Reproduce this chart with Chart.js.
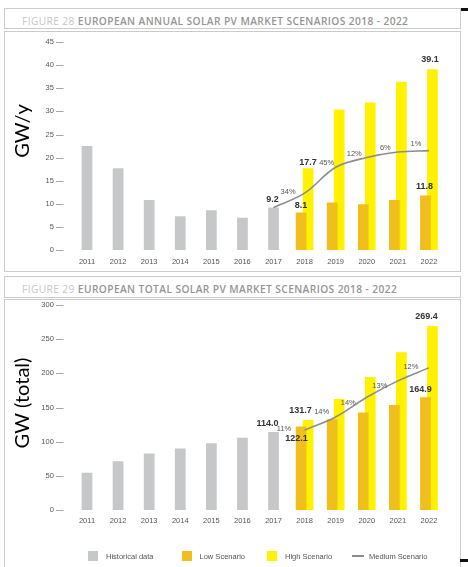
<!DOCTYPE html>
<html>
<head>
<meta charset="utf-8">
<script src="https://cdn.jsdelivr.net/npm/chart.js@4.4.1/dist/chart.umd.min.js"></script>
<style>
  body { margin: 0; background: #fff; }
  #page { position: relative; width: 468px; height: 567px; overflow: hidden; font-family: "Liberation Sans", Arial, sans-serif; }
  .box { position: absolute; box-sizing: border-box; border: 1px solid #cbcbcb; }
  .title { font-family: "Open Sans", sans-serif; font-size: 10.2px; letter-spacing: 0.4px; color: #959595; font-weight: 600; padding-left: 17px; padding-top: 3px; line-height: 19px; white-space: nowrap; }
  .title span { color: #c6c6c6; font-weight: 400; }
  .mark { position: absolute; left: 460px; width: 8px; height: 3px; background: #111; }
  canvas { position: absolute; }
  #legend { position: absolute; left: 88px; top: 551px; display: flex; align-items: center; font-size: 7.5px; color: #555; }
  #legend .sw { width: 10px; height: 10px; margin-right: 8px; }
  #legend .ln { width: 12px; height: 1.6px; background: #8d8d8d; margin-right: 5px; }
  #legend .it { display: flex; align-items: center; }
</style>
</head>
<body>
<div id="page">
  <div class="mark" style="top:8px"></div>
  <div class="box title" style="left:4px; top:8px; width:457px; height:21px;"><span>FIGURE 28</span> EUROPEAN ANNUAL SOLAR PV MARKET SCENARIOS 2018 - 2022</div>
  <div class="box" style="left:4px; top:31px; width:457px; height:241px;"></div>
  <canvas id="annualChart" style="left:5px; top:32px;" width="454" height="238"></canvas>

  <div class="box title" style="left:4px; top:276px; width:457px; height:22px;"><span>FIGURE 29</span> EUROPEAN TOTAL SOLAR PV MARKET SCENARIOS 2018 - 2022</div>
  <div class="box" style="left:4px; top:299px; width:457px; height:290px;"></div>
  <canvas id="totalChart" style="left:5px; top:300px;" width="454" height="267"></canvas>
  <div class="mark" style="top:559px"></div>

  <div id="legend">
    <div class="it" style="margin-right:28px"><div class="sw" style="background:#c6c7c9"></div>Historical data</div>
    <div class="it" style="margin-right:22px"><div class="sw" style="background:#f0bf1b"></div>Low Scenario</div>
    <div class="it" style="margin-right:20px"><div class="sw" style="background:#fff200"></div>High Scenario</div>
    <div class="it"><div class="ln"></div>Medium Scenario</div>
  </div>
</div>

<script>
const years = ['2011', '2012', '2013', '2014', '2015', '2016', '2017', '2018', '2019', '2020', '2021', '2022'];

// Figure 28 - annual market (GW/y)
const annualHistorical = [22.5, 17.7, 10.8, 7.3, 8.6, 7.0, 9.2, null, null, null, null, null];
const annualLow = [null, null, null, null, null, null, null, 8.1, 10.3, 9.9, 10.8, 11.8];
const annualHigh = [null, null, null, null, null, null, null, 17.7, 30.4, 31.9, 36.4, 39.1];
const annualMedium = [null, null, null, null, null, null, 9.2, 12.3, 17.9, 20.0, 21.2, 21.5];
const annualGrowth = [null, null, null, null, null, null, null, '34%', '45%', '12%', '6%', '1%'];
const annualTicks = [0, 5, 10, 15, 20, 25, 30, 35, 40, 45];

// Figure 29 - total installed (GW)
const totalHistorical = [54.6, 71.5, 82.7, 90.0, 97.8, 105.8, 114.0, null, null, null, null, null];
const totalLow = [null, null, null, null, null, null, null, 122.1, 132.8, 142.8, 153.6, 164.9];
const totalHigh = [null, null, null, null, null, null, null, 131.7, 162.4, 194.6, 230.8, 269.4];
const totalMedium = [null, null, null, null, null, null, null, 117.0, 136.0, 165.0, 189.0, 208.0];
const totalGrowth = [null, null, null, null, null, null, null, '11%', '14%', '14%', '13%', '12%'];
const totalTicks = [0, 50, 100, 150, 200, 250, 300];

const GREY = '#c6c7c9', LOW = '#f0bf1b', HIGH = '#fff200', MED = '#8d8d8d';
const FONT = '"Liberation Sans", Arial, sans-serif';

// value labels, growth labels and the big axis caption
const labelPlugin = {
  id: 'labels',
  afterDatasetsDraw(chart, args, opts) {
    const ctx = chart.ctx;
    const xs = chart.scales.x, ys = chart.scales.y;
    ctx.save();
    ctx.textAlign = 'center';
    ctx.textBaseline = 'bottom';

    ctx.font = 'bold 9px ' + FONT;
    ctx.fillStyle = '#333';
    opts.values.forEach(l => {
      const bar = chart.getDatasetMeta(l.ds).data[l.i];
      const v = chart.data.datasets[l.ds].data[l.i];
      ctx.fillText(v.toFixed(1), bar.x + (l.dx || 0), bar.y - 3 + (l.dy || 0));
    });

    // growth % sits between two years, near the end point of the medium line
    ctx.font = '7.5px ' + FONT;
    ctx.fillStyle = '#555';
    ctx.textBaseline = 'middle';
    let k = 0;
    opts.growth.forEach((g, i) => {
      if (!g) return;
      const off = opts.growthOffsets[k++];
      const x = (xs.getPixelForValue(i - 1) + xs.getPixelForValue(i)) / 2;
      const y = ys.getPixelForValue(opts.medium[i]);
      ctx.fillText(g, x + off[0], y + off[1]);
    });

    ctx.translate(opts.captionX, chart.chartArea.top + opts.captionY);
    ctx.rotate(-Math.PI / 2);
    ctx.font = '20px Lato, sans-serif';
    ctx.fillStyle = '#000';
    ctx.fillText(opts.caption, 0, 0);
    ctx.restore();
  }
};

function makeChart(id, hist, low, high, med, ticks, cfg) {
  return new Chart(document.getElementById(id), {
    type: 'bar',
    data: {
      labels: years,
      datasets: [
        { type: 'line', label: 'Medium Scenario', data: med, borderColor: MED, borderWidth: 1.6,
          pointRadius: 0, tension: 0.35, order: 0 },
        { label: 'Historical data', data: hist, backgroundColor: GREY, skipNull: true,
          categoryPercentage: 0.5, barPercentage: 0.69, order: 1 },
        { label: 'Low Scenario', data: low, backgroundColor: LOW, skipNull: true,
          categoryPercentage: 0.45, barPercentage: 1.53, order: 2 },
        { label: 'High Scenario', data: high, backgroundColor: HIGH, skipNull: true,
          categoryPercentage: 0.45, barPercentage: 1.53, order: 3 }
      ]
    },
    options: {
      responsive: false,
      animation: false,
      layout: { padding: { top: cfg.padTop, right: 14.5, left: 0, bottom: 0 } },
      plugins: {
        legend: { display: false },
        tooltip: { enabled: false },
        labels: cfg.labels
      },
      scales: {
        x: {
          grid: { display: false, drawTicks: false },
          border: { display: false },
          ticks: { color: '#555', font: { family: FONT, size: 7.5 }, padding: cfg.xPad, maxRotation: 0 },
          afterFit: s => { s.height = cfg.xHeight; }
        },
        y: {
          min: ticks[0],
          max: ticks[ticks.length - 1],
          afterBuildTicks: s => { s.ticks = ticks.map(v => ({ value: v })); },
          grid: { display: false, drawTicks: false },
          border: { display: false },
          ticks: { color: '#555', font: { family: FONT, size: 7.5 }, padding: 8,
                   callback: v => v + ' \u2014' },
          afterFit: s => { s.width = 66.45; s.paddingTop = 0; s.paddingBottom = 0; }
        }
      }
    },
    plugins: [labelPlugin]
  });
}

makeChart('annualChart', annualHistorical, annualLow, annualHigh, annualMedium, annualTicks, {
  padTop: 10, xHeight: 20, xPad: 7,
  labels: {
    values: [ { ds: 1, i: 6, dx: -1 }, { ds: 2, i: 7 }, { ds: 3, i: 7, dy: 1.5 },
              { ds: 2, i: 11, dx: -1, dy: -1 }, { ds: 3, i: 11, dx: -2.5, dy: -2 } ],
    growth: annualGrowth, medium: annualMedium,
    growthOffsets: [[-1, -1.5], [6.5, -4], [3, -3.5], [3, -4.5], [2.5, -6.5]],
    caption: 'GW/y', captionX: 18, captionY: 89
  }
});

makeChart('totalChart', totalHistorical, totalLow, totalHigh, totalMedium, totalTicks, {
  padTop: 5, xHeight: 57, xPad: 6,
  labels: {
    values: [ { ds: 1, i: 6, dx: -6, dy: -1 }, { ds: 2, i: 7, dx: -4.5, dy: 19 }, { ds: 3, i: 7, dx: -7.5, dy: -1.5 },
              { ds: 2, i: 11, dx: -5 }, { ds: 3, i: 11, dx: -6, dy: -1.5 } ],
    growth: totalGrowth, medium: totalMedium,
    growthOffsets: [[-5, -1], [1.5, -5], [-3, 5.5], [-2.5, 5], [-2.5, -0.5]],
    caption: 'GW (total)', captionX: 18, captionY: 98
  }
});
</script>
</body>
</html>
